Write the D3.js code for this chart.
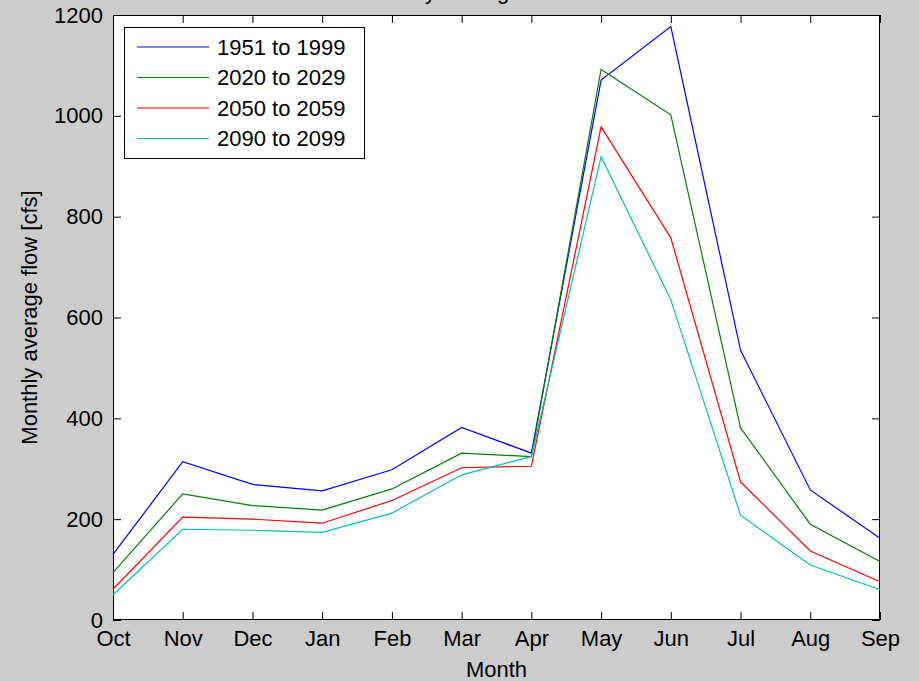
<!DOCTYPE html>
<html>
<head>
  <meta charset="utf-8">
  <title>Monthly average flow</title>
  <script src="https://d3js.org/d3.v7.min.js"></script>
<style>
    body { margin: 0; background: #cccccc; }
    text { font-family: "Liberation Sans", Arial, sans-serif; fill: #000; }
    .axis path { display: none; }
    .axis line { stroke: #000; }
  </style>
</head>
<body>
<div id="chart"></div>
<script>
// data
var months = ["Oct", "Nov", "Dec", "Jan", "Feb", "Mar", "Apr", "May", "Jun", "Jul", "Aug", "Sep"];
var periods = ["1951 to 1999", "2020 to 2029", "2050 to 2059", "2090 to 2099"];
var flow1951 = [130, 314, 269, 256, 298, 382, 331, 1071, 1177, 535, 258, 162];
var flow2020 = [94, 250, 227, 218, 260, 331, 324, 1092, 1002, 381, 190, 116];
var flow2050 = [61, 204, 200, 192, 237, 302, 305, 978, 758, 274, 137, 76];
var flow2090 = [50, 180, 178, 174, 212, 288, 324, 919, 635, 208, 109, 60];
var yTicks = [0, 200, 400, 600, 800, 1000, 1200];
var colors = ["#0000ff", "#008000", "#ff0000", "#00bfbf"];

var W = 919, H = 681;
var margin = {top: 15, right: 39, bottom: 61, left: 113},
    width = W - margin.left - margin.right,
    height = H - margin.top - margin.bottom;

var svg = d3.select("#chart").append("svg")
    .attr("width", W)
    .attr("height", H);

// title (mostly off the top of the picture)
svg.append("text")
  .attr("x", margin.left + width / 2)
  .attr("y", -1)
  .attr("text-anchor", "middle")
  .style("font-size", "22px")
  .text("Monthly average streamflow");

var g = svg.append("g")
  .attr("transform", "translate(" + margin.left + "," + margin.top + ")");

g.append("rect")
  .attr("width", width)
  .attr("height", height)
  .attr("fill", "#fff");

var x = d3.scalePoint().domain(months).range([0, width]);
var y = d3.scaleLinear().domain([0, 1200]).range([height, 0]);

// axes, ticks pointing inwards on all four sides
g.append("g").attr("class", "axis")
  .attr("transform", "translate(0," + height + ")")
  .call(d3.axisBottom(x).tickSizeInner(-8).tickSizeOuter(0).tickPadding(10))
  .selectAll("text").style("font-size", "22px").attr("dy", "0.71em");

g.append("g").attr("class", "axis")
  .call(d3.axisTop(x).tickSizeInner(-8).tickSizeOuter(0).tickFormat(""));

g.append("g").attr("class", "axis")
  .call(d3.axisLeft(y).tickValues(yTicks).tickSizeInner(-8).tickSizeOuter(0).tickPadding(10).tickFormat(d3.format("d")))
  .selectAll("text").style("font-size", "22px");

g.append("g").attr("class", "axis")
  .attr("transform", "translate(" + width + ",0)")
  .call(d3.axisRight(y).tickValues(yTicks).tickSizeInner(-8).tickSizeOuter(0).tickFormat(""));

g.selectAll(".axis text").attr("fill", "#000");

// box
g.append("rect")
  .attr("x", 0.5).attr("y", 0.5)
  .attr("width", width - 1).attr("height", height - 1)
  .attr("fill", "none")
  .attr("stroke", "#000");

// lines
var series = [flow1951, flow2020, flow2050, flow2090];
var line = d3.line()
  .x(function(d, i) { return x(months[i]); })
  .y(function(d) { return y(d); });

g.selectAll(".series")
  .data(series)
  .enter().append("path")
  .attr("class", "series")
  .attr("d", line)
  .attr("fill", "none")
  .attr("stroke", function(d, i) { return colors[i]; })
  .attr("stroke-width", 1.2);

// axis labels
svg.append("text")
  .attr("x", margin.left + width / 2)
  .attr("y", 677)
  .attr("text-anchor", "middle")
  .style("font-size", "22px")
  .text("Month");

svg.append("text")
  .attr("transform", "translate(37," + (margin.top + height / 2) + ") rotate(-90)")
  .attr("text-anchor", "middle")
  .style("font-size", "22px")
  .text("Monthly average flow [cfs]");

// legend
var legend = g.append("g").attr("transform", "translate(11,12)");
legend.append("rect")
  .attr("x", 0.5).attr("y", 0.5)
  .attr("width", 240).attr("height", 131)
  .attr("fill", "#fff")
  .attr("stroke", "#000");

var rows = legend.selectAll(".row")
  .data(periods)
  .enter().append("g")
  .attr("transform", function(d, i) { return "translate(0," + (20 + i * 30.5) + ")"; });

rows.append("line")
  .attr("x1", 13).attr("x2", 85)
  .attr("stroke", function(d, i) { return colors[i]; })
  .attr("stroke-width", 1.2);

rows.append("text")
  .attr("x", 93)
  .attr("dy", "0.35em")
  .style("font-size", "22px")
  .text(function(d) { return d; });
</script>
</body>
</html>
